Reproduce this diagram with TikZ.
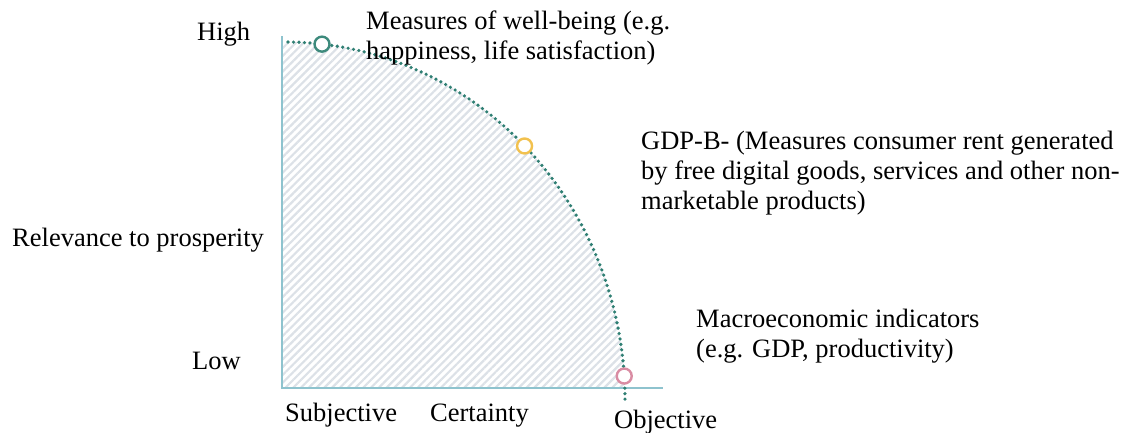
\documentclass[tikz,border=0pt]{standalone}
\usepackage{fontspec}
\setmainfont{Liberation Serif}
\usetikzlibrary{patterns.meta}
\definecolor{axisc}{HTML}{8EC3CE}
\definecolor{curvec}{HTML}{2F7F73}
\definecolor{hatchc}{HTML}{DCE1E7}
\definecolor{tealc}{HTML}{3D8A7C}
\definecolor{yelc}{HTML}{F2C14E}
\definecolor{pinkc}{HTML}{D98CA3}
\begin{document}
\begin{tikzpicture}[x=1pt,y=-1pt,
  lbl/.style={font=\fontsize{26.5}{30}\selectfont, inner sep=0pt, anchor=base west},
  mlbl/.style={font=\fontsize{26.5}{30}\selectfont, inner sep=0pt, anchor=north west, align=left},
  axisline/.style={draw=axisc, line width=1.5pt},
  dotline/.style={draw=curvec, line width=3.6pt, line cap=round, dash pattern=on 0pt off 5.5pt},
  marker/.style={circle, draw=#1, fill=white, line width=2.4pt, minimum size=15pt, inner sep=0pt}]
\useasboundingbox (0,0) rectangle (1133,432);
% hatched region
\fill[pattern={Lines[angle=45,distance=5.5pt,line width=2.2pt]}, pattern color=hatchc]
  (282,388) -- (282,42) -- (285,42) arc[start angle=-90,end angle=-1.92,x radius=340,y radius=358] -- cycle;
% axes
\coordinate (top) at (282,36);
\coordinate (orig) at (282,388);
\coordinate (xend) at (663,388);
\draw[axisline] (top) -- (orig) -- (xend);
% frontier
\coordinate (C) at (285,400);
\draw[dotline] (288,42) arc[start angle=-89.5,end angle=0.7,x radius=340,y radius=358];
\node[marker=tealc] (m1) at ([shift={(-83.75:340 and 358)}]C) {};
\node[marker=yelc] (m2) at ([shift={(-45.2:340 and 358)}]C) {};
\node[marker=pinkc] (m3) at ([shift={(-3.84:340 and 358)}]C) {};
% labels
\node[lbl] (high) at (197,40) {High};
\node[lbl] (rel) at (12,246) {Relevance to prosperity};
\node[lbl] (low) at (192,369) {Low};
\node[lbl] (subj) at (285,421) {Subjective};
\node[lbl] (cert) at (430,421) {Certainty};
\node[lbl] (obj) at (614,428) {Objective};
\node[mlbl] (t1) at (366,8) {\rule{0pt}{21pt}Measures of well-being (e.g.\\happiness, life satisfaction)};
\node[mlbl] (t2) at (641,128) {\rule{0pt}{21pt}GDP-B- (Measures consumer rent generated\\by free digital goods, services and other non-\\marketable products)};
\node[mlbl] (t3) at (696,306) {\rule{0pt}{21pt}Macroeconomic indicators\\(e.g. GDP, productivity)};
\end{tikzpicture}
\end{document}
